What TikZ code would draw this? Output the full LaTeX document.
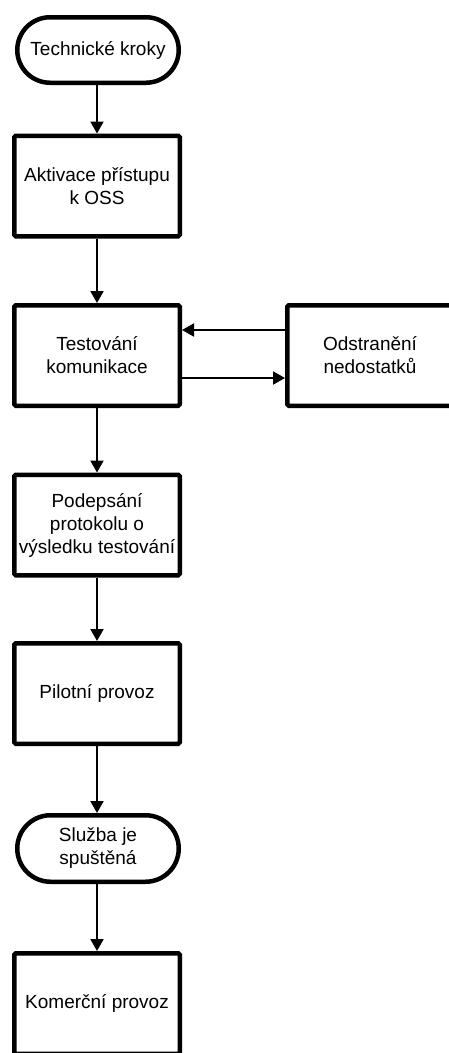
\documentclass[tikz,border=0pt]{standalone}
\usepackage{fontspec}
\setmainfont{Liberation Sans}
\usetikzlibrary{arrows.meta,shapes.misc}
\tikzset{
  procbox/.style={draw, line width=4.5pt, rounded corners=1.5pt, fill=white,
    minimum width=165.5pt, minimum height=100.5pt, align=center, inner sep=2pt,
    font=\fontsize{19pt}{23pt}\selectfont},
  termbox/.style={draw, line width=4.5pt, rounded rectangle, fill=white,
    minimum width=165.5pt, minimum height=65.5pt, align=center, inner sep=2pt,
    font=\fontsize{19pt}{23pt}\selectfont},
  conn/.style={line width=2pt, -{Triangle[length=12pt,width=13pt]}}
}
\begin{document}
\begin{tikzpicture}[x=1pt,y=-1pt]
\clip (0,0) rectangle (449,1053);
\fill[white] (0,0) rectangle (449,1053);
\node[termbox] (start) at (98,50) {Technické kroky};
\node[procbox] (b1) at (97,186) {Aktivace přístupu\\k OSS};
\node[procbox] (b2) at (97,355.5) {Testování\\komunikace};
\node[procbox] (fix) at (370,355.5) {Odstranění\\nedostatků};
\node[procbox] (b3) at (97,525) {Podepsání\\protokolu o\\výsledku testování};
\node[procbox] (b4) at (97,693.5) {Pilotní provoz};
\node[termbox, minimum height=66.5pt] (end) at (98,848.5) {Služba je\\spuštěná};
\node[procbox] (b5) at (97,1003.5) {Komerční provoz};
\draw[conn] (start.south -| b1.north) -- (b1.north);
\draw[conn] (b1.south) -- (b2.north);
\draw[conn] ([yshift=25.5pt]fix.west) -- ([yshift=25.5pt]b2.east);
\draw[conn] ([yshift=-22.5pt]b2.east) -- ([yshift=-22.5pt]fix.west);
\draw[conn] (b2.south) -- (b3.north);
\draw[conn] (b3.south) -- (b4.north);
\draw[conn] (b4.south) -- (end.north -| b4.south);
\draw[conn] (end.south -| b5.north) -- (b5.north);
\end{tikzpicture}
\end{document}
